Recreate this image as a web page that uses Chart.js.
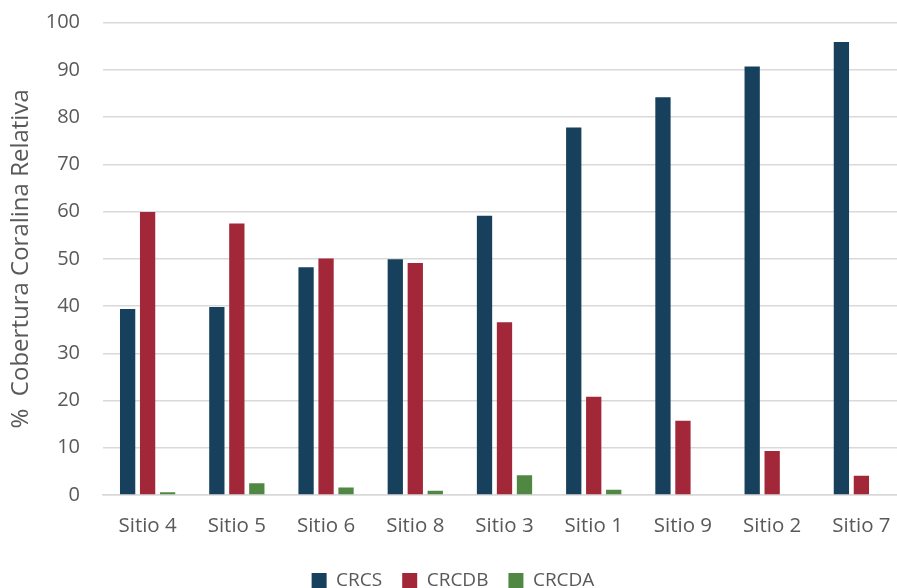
<!DOCTYPE html>
<html>
<head>
<meta charset="utf-8">
<script src="https://cdn.jsdelivr.net/npm/chart.js@4"></script>
<style>
  html, body { margin: 0; padding: 0; background: #ffffff; }
  /* the plot runs slightly past the right edge of the visible frame */
  #wrap { width: 897px; height: 588px; position: relative; overflow: hidden; }
  #chart { display: block; }
</style>
</head>
<body>
<div id="wrap"><canvas id="chart" width="906" height="588"></canvas></div>
<script>
// Sites, ordered by live coral cover
const sitios = ['Sitio 4', 'Sitio 5', 'Sitio 6', 'Sitio 8', 'Sitio 3', 'Sitio 1', 'Sitio 9', 'Sitio 2', 'Sitio 7'];

// Relative coral cover (%) per category
const crcs  = [39.4, 39.8, 48.2, 49.9, 59.1, 77.8, 84.2, 90.7, 95.9];
const crcdb = [59.9, 57.5, 50.1, 49.1, 36.6, 20.8, 15.7, 9.3, 4.1];
const crcda = [0.6, 2.5, 1.6, 0.9, 4.2, 1.1, 0, 0, 0];

const yTicks = [0, 10, 20, 30, 40, 50, 60, 70, 80, 90, 100];

const FONT = '"Open Sans", sans-serif';
const TEXT = '#595959';
const GRID = '#d9d9d9';

const PLOT_LEFT = 103;
const PLOT_BOTTOM = 495;
const CANVAS_H = 588;
const LEGEND_PAD = 20;
const LEGEND_SHIFT = 12;

// Nudges the legend row down toward the bottom edge of the canvas
const legendNudge = {
  id: 'legendNudge',
  afterLayout(chart) {
    if (chart.legend) {
      chart.legend.top += LEGEND_SHIFT;
      chart.legend.bottom += LEGEND_SHIFT;
    }
  }
};

new Chart(document.getElementById('chart'), {
  type: 'bar',
  data: {
    labels: sitios,
    datasets: [
      { label: 'CRCS',  data: crcs,  backgroundColor: '#17405c' },
      { label: 'CRCDB', data: crcdb, backgroundColor: '#a22738' },
      { label: 'CRCDA', data: crcda, backgroundColor: '#4f8743' }
    ]
  },
  plugins: [legendNudge],
  options: {
    responsive: false,
    animation: false,
    devicePixelRatio: 1,
    datasets: { bar: { categoryPercentage: 0.672, barPercentage: 0.765 } },
    layout: { padding: { top: 22.7, right: 0, bottom: 0, left: 0 } },
    plugins: {
      tooltip: { enabled: false },
      legend: {
        position: 'bottom',
        labels: {
          color: TEXT,
          font: { family: FONT, size: 19 },
          boxWidth: 15,
          boxHeight: 15,
          padding: LEGEND_PAD
        }
      }
    },
    scales: {
      x: {
        grid: { display: false, drawTicks: false },
        border: { display: true, color: GRID, width: 1.5 },
        ticks: { color: TEXT, font: { family: FONT, size: 20.5 }, padding: 19, maxRotation: 0 },
        afterFit(axis) {
          const lg = axis.chart.legend;
          const lh = lg ? lg.height : 0;
          axis.height = CANVAS_H - PLOT_BOTTOM - lh;
          axis.paddingLeft = 0;
          axis.paddingRight = 0;
        }
      },
      y: {
        min: 0,
        max: 100,
        afterBuildTicks(axis) { axis.ticks = yTicks.map(v => ({ value: v })); },
        grid: { color: GRID, lineWidth: 1.5, drawTicks: false },
        border: { display: false },
        ticks: { color: TEXT, font: { family: FONT, size: 20 }, padding: 23 },
        title: {
          display: true,
          text: '%  Cobertura Coralina Relativa',
          color: TEXT,
          font: { family: FONT, size: 24 },
          padding: { top: 7, bottom: 0 }
        },
        afterFit(axis) {
          axis.width = PLOT_LEFT;
          axis.paddingTop = 0;
          axis.paddingBottom = 0;
        }
      }
    }
  }
});
</script>
</body>
</html>
